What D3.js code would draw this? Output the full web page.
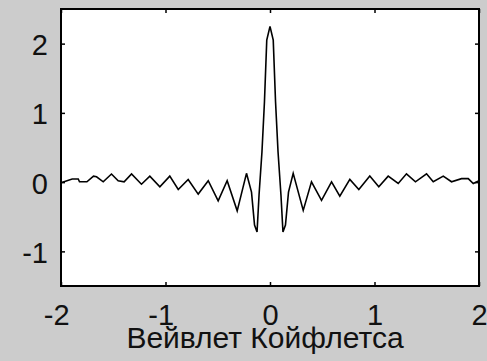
<!DOCTYPE html>
<html>
<head>
<meta charset="utf-8">
<script src="https://cdn.jsdelivr.net/npm/d3@7"></script>
<style>
  html, body { margin: 0; padding: 0; background: #cccccc; }
  svg { display: block; }
</style>
</head>
<body>
<svg id="chart" width="487" height="361"></svg>
<script>
// ---- data ----
const waveX = [-2.0, -1.893, -1.835, -1.823, -1.752, -1.689, -1.660, -1.596, -1.517, -1.453,
  -1.396, -1.325, -1.230, -1.150, -1.054, -0.959, -0.878, -0.783, -0.687, -0.591,
  -0.496, -0.410, -0.314, -0.225, -0.177, -0.148, -0.124, -0.105, -0.077, -0.053,
  -0.031, 0, 0.031, 0.053, 0.077, 0.105, 0.124, 0.148, 0.177, 0.222,
  0.318, 0.397, 0.493, 0.589, 0.668, 0.764, 0.850, 0.955, 1.041, 1.131,
  1.227, 1.306, 1.392, 1.498, 1.562, 1.658, 1.737, 1.833, 1.897, 1.945, 2.0];
const waveY = [-0.01, 0.045, 0.045, 0.005, 0.005, 0.087, 0.077, 0.005, 0.117, 0.02,
  0.005, 0.117, -0.03, 0.087, -0.068, 0.087, -0.106, 0.039, -0.173, 0.02,
  -0.27, 0.02, -0.415, 0.127, -0.145, -0.62, -0.72, -0.189, 0.435, 1.16,
  2.05, 2.25, 2.05, 1.16, 0.435, -0.189, -0.72, -0.62, -0.145, 0.127,
  -0.408, 0.005, -0.262, 0.005, -0.204, 0.039, -0.106, 0.087, -0.068, 0.087,
  -0.02, 0.12, 0.005, 0.12, 0.005, 0.087, 0.005, 0.05, 0.05, -0.02, 0.02];
const xTickValues = [-2, -1, 0, 1, 2];
const xTickLabels = ["-2", "-1", "0", "1", "2"];
const yTickValues = [-1, 0, 1, 2];
const yTickLabels = ["-1", "0", "1", "2"];
const xDomain = [-2, 2];
const yDomain = [-1.5, 2.5];
const xLabelText = "Вейвлет Койфлетса";

// ---- layout ----
const plotL = 61, plotR = 479, plotT = 9, plotB = 286;
const fontFamily = "'Liberation Sans', Arial, Helvetica, sans-serif";
const tickFont = 29;
const halfDigit = 0.556 * tickFont / 2;

const svg = d3.select("#chart");
const x = d3.scaleLinear().domain(xDomain).range([plotL, plotR]);
const y = d3.scaleLinear().domain(yDomain).range([plotB, plotT]);

// plot area
svg.append("rect")
  .attr("x", plotL).attr("y", plotT)
  .attr("width", plotR - plotL).attr("height", plotB - plotT)
  .attr("fill", "#ffffff");

// curve
const pts = waveX.map((v, i) => [v, waveY[i]]);
svg.append("path")
  .datum(pts)
  .attr("fill", "none")
  .attr("stroke", "#000")
  .attr("stroke-width", 1.6)
  .attr("stroke-linejoin", "miter")
  .attr("d", d3.line().x(d => x(d[0])).y(d => y(d[1])));

function styleAxis(g) {
  g.select(".domain").remove();
  g.selectAll(".tick line").attr("stroke", "#000").attr("stroke-width", 1.5);
  g.selectAll("text")
    .attr("fill", "#111")
    .style("font-family", fontFamily)
    .style("font-size", tickFont + "px");
}

// bottom axis (ticks inward)
const gx = svg.append("g")
  .attr("transform", `translate(0,${plotB})`)
  .call(d3.axisBottom(x).tickValues(xTickValues)
    .tickFormat((d, i) => xTickLabels[i]).tickSize(-4));
styleAxis(gx);
gx.selectAll("text")
  .attr("text-anchor", "end")
  .attr("x", halfDigit)
  .attr("y", 39)
  .attr("dy", 0);

// top axis
const gt = svg.append("g")
  .attr("transform", `translate(0,${plotT})`)
  .call(d3.axisTop(x).tickValues(xTickValues).tickFormat("").tickSize(-4));
styleAxis(gt);

// left axis
const gy = svg.append("g")
  .attr("transform", `translate(${plotL},0)`)
  .call(d3.axisLeft(y).tickValues(yTickValues)
    .tickFormat((d, i) => yTickLabels[i]).tickSize(-4));
styleAxis(gy);
gy.selectAll("text")
  .attr("text-anchor", "end")
  .attr("x", -13)
  .attr("dy", "0.38em");

// right axis
const gr = svg.append("g")
  .attr("transform", `translate(${plotR},0)`)
  .call(d3.axisRight(y).tickValues(yTickValues).tickFormat("").tickSize(-4));
styleAxis(gr);

// box
svg.append("rect")
  .attr("x", plotL).attr("y", plotT)
  .attr("width", plotR - plotL).attr("height", plotB - plotT)
  .attr("fill", "none")
  .attr("stroke", "#000")
  .attr("stroke-width", 2);

// x label
svg.append("text")
  .attr("x", (plotL + plotR) / 2 - 5)
  .attr("y", 348)
  .attr("text-anchor", "middle")
  .attr("fill", "#111")
  .style("font-family", fontFamily)
  .style("font-size", "30px")
  .text(xLabelText);
</script>
</body>
</html>
